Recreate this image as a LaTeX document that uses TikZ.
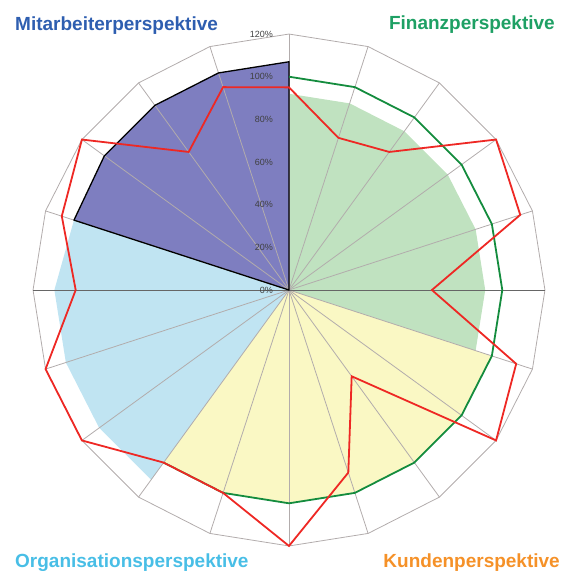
\documentclass[tikz,border=0pt]{standalone}
\usepackage{fontspec}
\setmainfont{Liberation Sans}
\usetikzlibrary{calc}

\definecolor{purplefill}{RGB}{126,126,192}
\definecolor{greenfill}{RGB}{192,226,192}
\definecolor{yellowfill}{RGB}{250,248,196}
\definecolor{bluefill}{RGB}{192,228,242}
\definecolor{redline}{RGB}{238,40,36}
\definecolor{greenline}{RGB}{20,140,62}
\definecolor{gridgray}{RGB}{178,172,172}
\definecolor{mitarbeitercol}{RGB}{46,94,176}
\definecolor{finanzcol}{RGB}{30,160,100}
\definecolor{organisationcol}{RGB}{72,190,230}
\definecolor{kundencol}{RGB}{245,145,40}

\tikzset{
  gridline/.style={gridgray, line width=0.8},
  title/.style={font=\fontsize{19}{19}\selectfont\bfseries, inner sep=0},
  percent/.style={font=\fontsize{9}{9}\selectfont, text=black!75, anchor=east, inner sep=0}
}

\begin{document}
\begin{tikzpicture}[x=1pt,y=1pt]

%Radius of 1 percent
\def\u{2.133}

\useasboundingbox (-289,-281) rectangle (273,290);

%Filled perspectives
\fill[greenfill] (0,0) \foreach \k in {0,...,6} { -- ({90-18*\k}:{92*\u}) } -- cycle;
\fill[yellowfill] (0,0) \foreach \k in {6,...,12} { -- ({90-18*\k}:{100*\u}) } -- cycle;
\fill[bluefill] (0,0) \foreach \k/\v in {12/110,13/110,14/110,15/110,16/106} { -- ({90-18*\k}:{\v*\u}) } -- cycle;
\fill[purplefill] (0,0) \foreach \k/\v in {16/106,17/107,18/107,19/107,20/107} { -- ({90-18*\k}:{\v*\u}) } -- cycle;

%Grid: spokes and outer ring
\foreach \k in {0,...,19}
  \draw[gridline] (0,0) -- ({90-18*\k}:{120*\u});
\draw[gridline] (90:{120*\u}) \foreach \k in {1,...,19} { -- ({90-18*\k}:{120*\u}) } -- cycle;
\draw[gray!80!black, line width=0.8] (180:{120*\u}) -- (0:{120*\u});

%Percent labels
\foreach \p in {0,20,...,120}
  \node[percent] (p\p) at (-16,{\p*\u}) {\p\%};

%Border of Mitarbeiterperspektive
\draw[black, line width=1.3, line join=round] (0,0) \foreach \k/\v in {16/106,17/107,18/107,19/107,20/107} { -- ({90-18*\k}:{\v*\u}) } -- cycle;

%Target line
\draw[greenline, line width=1.8, line join=round] (90:{100*\u}) \foreach \k in {1,...,12} { -- ({90-18*\k}:{100*\u}) };

%Actual values
\draw[redline, line width=1.8, line join=miter] (90:{95*\u})
  \foreach \v [count=\k] in {75,80,120,114,67,112,120,50,90,120,100,100,120,120,100,112,120,80,100}
  { -- ({90-18*\k}:{\v*\u}) } -- cycle;

%Titles
\node[title, text=mitarbeitercol, anchor=base west] (mitarbeiter) at (-274,259) {Mitarbeiterperspektive};
\node[title, text=finanzcol, anchor=base east] (finanz) at (266,260) {Finanzperspektive};
\node[title, text=organisationcol, anchor=base west] (organisation) at (-274,-277) {Organisationsperspektive};
\node[title, text=kundencol, anchor=base east] (kunden) at (271,-277) {Kundenperspektive};

\end{tikzpicture}
\end{document}
